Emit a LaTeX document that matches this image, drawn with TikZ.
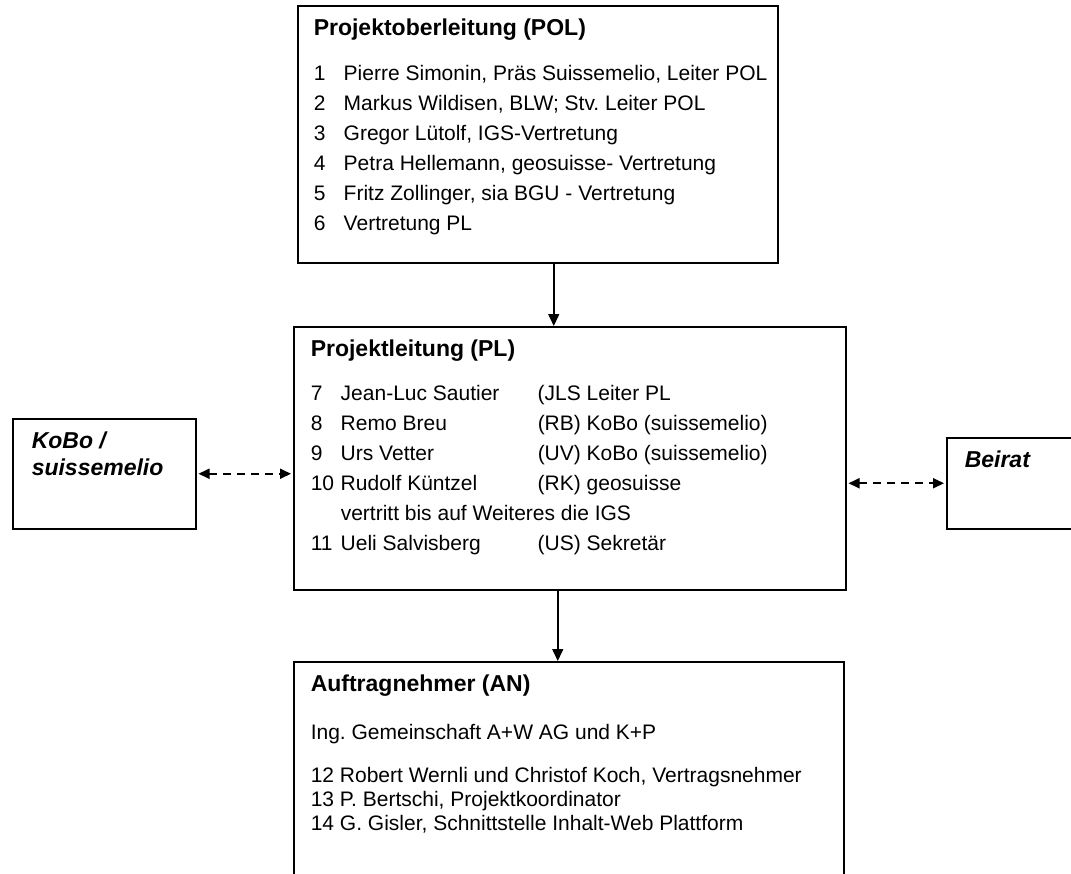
\documentclass[tikz,border=0pt]{standalone}
\usepackage{fontspec}
\setmainfont{Liberation Sans}
\usetikzlibrary{arrows.meta}
\frenchspacing

\newcommand{\orgtext}[4]{\parbox[c][#2][t]{#1}{\raggedright\leftskip=#3\fontsize{21}{30}\selectfont #4}}
\newcommand{\orgtitle}[1]{{\fontsize{23}{30}\selectfont\bfseries #1}\rule{0pt}{30pt}\par}
\newcommand{\nr}[1]{\makebox[30pt][l]{#1}}

\begin{document}
\begin{tikzpicture}[x=1pt, y=-1pt, >={Triangle[length=12pt,width=11pt]},
    orgbox/.style={draw, line width=1.5pt, anchor=north west, inner sep=0pt},
    arr/.style={->, line width=1.5pt},
    darr/.style={{Triangle[length=11pt,width=10pt]}-{Triangle[length=11pt,width=10pt]}, line width=1.8pt, dash pattern=on 8pt off 6pt, shorten <=2pt, shorten >=2pt}]
        \useasboundingbox (0,0) rectangle (1071,873);

        \node [orgbox] (pol) at (297,5) {\orgtext{480pt}{257pt}{16pt}{%
            \orgtitle{Projektoberleitung (POL)}\vspace{15pt}
            \nr{1}Pierre Simonin, Präs Suissemelio, Leiter POL\par
            \nr{2}Markus Wildisen, BLW; Stv. Leiter POL\par
            \nr{3}Gregor Lütolf, IGS-Vertretung\par
            \nr{4}Petra Hellemann, geosuisse- Vertretung\par
            \nr{5}Fritz Zollinger, sia BGU - Vertretung\par
            \nr{6}Vertretung PL\par}};

        \node [orgbox] (pl) at (293,326) {\orgtext{552pt}{263pt}{17pt}{%
            \orgtitle{Projektleitung (PL)}\vspace{14pt}
            \nr{7}\makebox[197pt][l]{Jean-Luc Sautier}(JLS Leiter PL\par
            \nr{8}\makebox[197pt][l]{Remo Breu}(RB) KoBo (suissemelio)\par
            \nr{9}\makebox[197pt][l]{Urs Vetter}(UV) KoBo (suissemelio)\par
            \nr{10}\makebox[197pt][l]{Rudolf Küntzel}(RK) geosuisse\par
            \nr{}vertritt bis auf Weiteres die IGS\par
            \nr{11}\makebox[197pt][l]{Ueli Salvisberg}(US) Sekretär\par}};

        \node [orgbox] (an) at (293,661) {\orgtext{550pt}{260pt}{17pt}{%
            \orgtitle{Auftragnehmer (AN)}\vspace{18pt}
            Ing. Gemeinschaft A+W AG und K+P\par\vspace{19pt}
            \fontsize{21}{24}\selectfont
            12 Robert Wernli und Christof Koch, Vertragsnehmer\par
            13 P. Bertschi, Projektkoordinator\par
            14 G. Gisler, Schnittstelle Inhalt-Web Plattform\par}};

        \node [orgbox] (kobo) at (12,418) {\orgtext{183pt}{110pt}{19pt}{%
            \fontsize{23}{27}\selectfont\bfseries\itshape
            KoBo /\rule{0pt}{30pt}\par
            suissemelio\par}};

        \node [orgbox] (beirat) at (946,437) {\orgtext{160pt}{91pt}{18pt}{%
            \fontsize{23}{27}\selectfont\bfseries\itshape
            Beirat\rule{0pt}{30pt}\par}};

        \draw [arr] ([xshift=16pt]pol.south) -- ([xshift=16pt]pol.south |- pl.north);
        \draw [arr] ([xshift=-12pt]pl.south) -- ([xshift=-12pt]pl.south |- an.north);
        \draw [darr] (kobo.east) -- (kobo.east -| pl.west);
        \draw [darr] (pl.east |- beirat.west) -- (beirat.west);
    \end{tikzpicture}
\end{document}
